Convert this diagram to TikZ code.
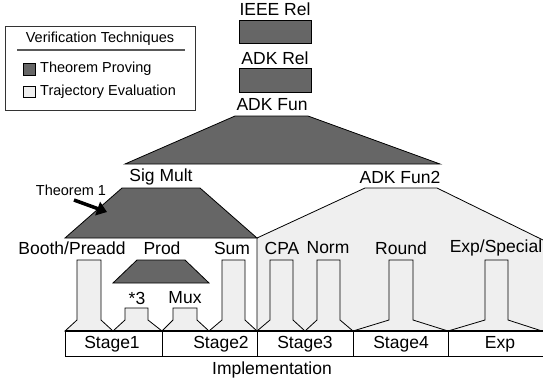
\documentclass[tikz,border=0pt]{standalone}
\usepackage{fontspec}
\setmainfont{Liberation Sans}
\usetikzlibrary{arrows.meta}
\definecolor{proofgray}{HTML}{666666}
\definecolor{trajgray}{HTML}{EFEFEF}
\tikzset{
  lbl/.style={font=\fontsize{17.5}{20}\selectfont, inner sep=0pt},
  smalllbl/.style={font=\fontsize{14.5}{17}\selectfont, inner sep=0pt},
  proof/.style={draw=black, fill=proofgray, line width=0.8pt},
  traj/.style={draw=black, fill=trajgray, line width=0.8pt}
}
% stem: top y, left x, right x, left foot x, right foot x
\def\stem(#1:#2:#3:#4:#5){\draw[traj] (#4,331) -- (#2,320) -- (#2,#1) -- (#3,#1) -- (#3,320) -- (#5,331) -- cycle;}

\begin{document}
\begin{tikzpicture}[x=1pt, y=-1pt]
			%%%%% START %%%%%
			\useasboundingbox (0,0) rectangle (543,381);
			
			% legend
			\draw[line width=0.8pt, draw=black!80] (5,26) rectangle (195,110);
			\node[smalllbl] (legtitle) at (100,39) {Verification Techniques};
			\draw[line width=1.2pt, draw=black!65] (17,50) -- (185,50);
			\draw[proof] (23,63) rectangle (35,75);
			\node[smalllbl, anchor=west] (legproof) at (40,69) {Theorem Proving};
			\draw[traj] (23,86) rectangle (35,97);
			\node[smalllbl, anchor=west] (legtraj) at (40,92) {Trajectory Evaluation};
			
			% top of the proof tree
			\node[lbl] (ieeerel) at (275,9) {IEEE Rel};
			\draw[proof] (239,20) rectangle (311,43);
			\node[lbl] (adkrel) at (275,58) {ADK Rel};
			\draw[proof] (239,68) rectangle (311,92);
			\node[lbl] (adkfun) at (272,105) {ADK Fun};
			\draw[proof] (235,116) -- (308,116) -- (440,164) -- (125,164) -- cycle;
			
			% trajectory evaluation region
			\node[lbl] (adkfuntwo) at (400,177) {ADK Fun2};
			\fill[trajgray] (257,238) -- (365,188) -- (437,188) -- (543,240) -- (543,331) -- (257,331) -- cycle;
			\draw[line width=0.8pt] (257,331) -- (257,238) -- (365,188) -- (437,188) -- (543,240);
			
			% multiplier
			\node[lbl] (sigmult) at (161,177) {Sig Mult};
			\draw[proof] (122,188) -- (200,188) -- (257,238) -- (65,238) -- cycle;
			\node[smalllbl] (thmone) at (71,190) {Theorem 1};
			\coordinate (thmtip) at (107,212);
			\draw[line width=3.5pt, -{Triangle[length=10pt, width=14pt]}] (74,200) -- (thmtip);
			
			\node[lbl] (booth) at (72,248) {Booth/Preadd};
			\node[lbl] (prod) at (162,248) {Prod};
			\node[lbl] (sum) at (232,248) {Sum};
			\node[lbl] (cpa) at (282,248) {CPA};
			\node[lbl] (norm) at (328,248) {Norm};
			\node[lbl] (round) at (401,248) {Round};
			\node[lbl] (expspecial) at (496,248) {Exp/Special};
			
			\draw[proof] (137,260) -- (185,260) -- (209,283) -- (113,283) -- cycle;
			\node[lbl] (timesthree) at (137,298) {*3};
			\node[lbl] (mux) at (185,298) {Mux};
			
			% stems
			\stem(260:77:101:65:113)
			\stem(308:125:148:113:162)
			\stem(308:173:197:162:209)
			\stem(260:222:245:209:257)
			\stem(260:270:293:257:305)
			\stem(260:317:340:305:353)
			\stem(260:389:413:353:448)
			\stem(260:485:508:448:542)
			
			% stages
			\draw[line width=0.8pt] (65,331) rectangle (543,356);
			\draw[line width=1.8pt] (65,331) -- (543,331);
			\foreach \xs in {162,257,353,448}
			  \draw[line width=0.8pt] (\xs,331) -- (\xs,356);
			\node[lbl] (stageone) at (112,344) {Stage1};
			\node[lbl] (stagetwo) at (221,344) {Stage2};
			\node[lbl] (stagethree) at (305,344) {Stage3};
			\node[lbl] (stagefour) at (401,344) {Stage4};
			\node[lbl] (expstage) at (500,344) {Exp};
			\node[lbl] (impl) at (272,370) {Implementation};
			
			%%%%% END %%%%%
\end{tikzpicture}
\end{document}
